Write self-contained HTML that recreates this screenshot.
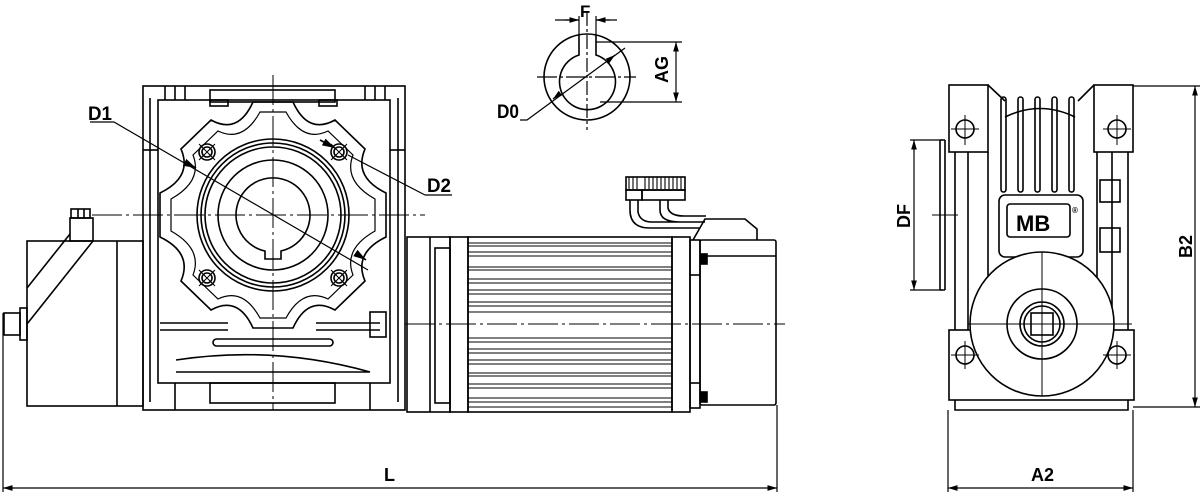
<!DOCTYPE html>
<html><head><meta charset="utf-8"><style>
html,body{margin:0;padding:0;background:#fff;}
svg{display:block;}
text{font-family:"Liberation Sans",sans-serif;font-weight:bold;fill:#000;}
</style></head><body>
<svg width="1200" height="495" viewBox="0 0 1200 495" xmlns="http://www.w3.org/2000/svg">
<defs>
<marker id="ar" viewBox="0 0 10 10" refX="10" refY="5" markerWidth="8" markerHeight="8" orient="auto-start-reverse"><path d="M0,2 L10,5 L0,8 Z" fill="#000"/></marker>
</defs>
<g fill="none" stroke="#000" stroke-width="1.6">
<!-- ===== LEFT: brake box ===== -->
<rect x="27" y="241" width="116" height="165"/>
<line x1="117" y1="241" x2="117" y2="406"/>
<rect x="70" y="218" width="23" height="23"/>
<rect x="71" y="209" width="19" height="9"/>
<line x1="78" y1="209" x2="78" y2="218"/><line x1="84" y1="209" x2="84" y2="218"/>
<line x1="70" y1="234" x2="27" y2="288"/><line x1="93" y1="241" x2="27" y2="324"/>
<rect x="20" y="308" width="7" height="32"/>
<rect x="4" y="313" width="16" height="22"/>
<line x1="3" y1="313" x2="3" y2="492" stroke-width="1.2"/>
<!-- ===== gearbox side ===== -->
<rect x="143" y="86" width="262" height="324"/>
<rect x="158" y="100" width="232" height="283"/>
<rect x="210" y="90" width="125" height="12"/>
<rect x="210" y="100" width="18" height="6"/><rect x="319" y="100" width="18" height="6"/>
<line x1="150" y1="98" x2="150" y2="402"/><line x1="398" y1="98" x2="398" y2="402"/>
<line x1="165" y1="86" x2="165" y2="100"/><line x1="175" y1="86" x2="175" y2="100"/><line x1="185" y1="86" x2="185" y2="100"/>
<line x1="365" y1="86" x2="365" y2="100"/><line x1="375" y1="86" x2="375" y2="100"/><line x1="385" y1="86" x2="385" y2="100"/>
<line x1="143" y1="150" x2="158" y2="150"/><line x1="390" y1="150" x2="405" y2="150"/>
<rect x="210" y="383" width="125" height="20"/>
<line x1="175" y1="383" x2="175" y2="410"/><line x1="370" y1="383" x2="370" y2="410"/>
<path d="M160 323 H228 M160 330 H228 M316 323 H380 M316 330 H380" />
<rect x="213" y="339" width="120" height="7" rx="3.5"/>
<path d="M176 360 Q273 345 370 372 M176 372 H370"/>
<rect x="370" y="312" width="16" height="25"/>
<!-- flange -->
<g transform="translate(273,215)">
<path d="M -20,-113 L 20,-113 Q 35,-80 62,-95 L 92,-66 Q 80,-38 113,-22 L 113,22 Q 80,38 92,66 L 62,95 Q 35,80 20,113 L -20,113 Q -35,80 -62,95 L -92,66 Q -80,38 -113,22 L -113,-22 Q -80,-38 -92,-66 L -62,-95 Q -35,-80 -20,-113 Z"/>
<path d="M -13,-103 L 13,-103 Q 30,-72 55,-84 L 80,-60 Q 70,-34 102,-16 L 102,16 Q 70,34 80,60 L 55,84 Q 30,72 13,103 L -13,103 Q -30,72 -55,84 L -80,60 Q -70,34 -102,16 L -102,-16 Q -70,-34 -80,-60 L -55,-84 Q -30,-72 -13,-103 Z" stroke-width="1.2"/>
<circle r="76"/><circle r="72"/><circle r="68"/><circle r="55"/>
<path d="M -8,36 A 37 37 0 1 1 8,36 L 8,44 L -8,44 Z" transform="translate(0,0)"/>
<circle cx="-66" cy="-63" r="8"/><circle cx="66" cy="-63" r="8"/><circle cx="-66" cy="63" r="8"/><circle cx="66" cy="63" r="8"/>
<circle cx="-66" cy="-63" r="5"/><circle cx="66" cy="-63" r="5"/><circle cx="-66" cy="63" r="5"/><circle cx="66" cy="63" r="5"/>
<path d="M-74,-55 L-58,-71 M74,-55 L58,-71 M-74,55 L-58,71 M74,55 L58,71 M-74,-71 L-58,-55 M74,-71 L58,-55 M-74,71 L-58,55 M74,71 L58,55" stroke-width="1"/>
</g>
<!-- centre lines -->
<g stroke-width="1" stroke-dasharray="30,4,3,4">
<line x1="92" y1="215" x2="425" y2="215"/>
<line x1="273" y1="75" x2="273" y2="410"/>
<line x1="405" y1="324" x2="785" y2="324"/>
</g>
<!-- D1, D2 leaders -->
<path d="M90 122 H114 L368 270" stroke-width="1.2"/>
<path d="M190 165 L196 168" marker-end="url(#ar)"/>
<path d="M360 256 L366 260" marker-end="url(#ar)"/>
<path d="M425 195 H452 M425 195 L348 155" stroke-width="1.2"/>
<path d="M320 140 L335 148" marker-end="url(#ar)"/>
<!-- ===== motor ===== -->
<rect x="407" y="237" width="43" height="175"/>
<line x1="430" y1="237" x2="430" y2="412"/>
<rect x="435" y="248" width="15" height="155"/>
<rect x="450" y="237" width="18" height="175"/>
<rect x="468" y="237" width="204" height="175"/>
<rect x="672" y="237" width="18" height="175"/>
<rect x="690" y="240" width="10" height="168"/>
<rect x="700" y="240" width="76" height="165" rx="2"/>
<line x1="700" y1="256" x2="776" y2="256"/>
<rect x="701" y="254" width="6" height="10" fill="#000"/>
<rect x="701" y="392" width="6" height="10" fill="#000"/>
<line x1="690" y1="275" x2="700" y2="275"/><line x1="690" y1="383" x2="700" y2="383"/>
<path d="M693 240 L705 219 H745 L757 229 V240"/>
<path d="M630 200 V210 Q630 228 650 228 H700 M638 200 V212 Q640 222 652 222 H700 M660 200 V210 Q660 222 680 222 H705 M668 200 V208 Q670 216 684 216 H706"/>
<rect x="626" y="190" width="16" height="10"/><rect x="642" y="190" width="43" height="10"/>
<rect x="626" y="177" width="59" height="13"/>
</g>
<g stroke="#000" stroke-width="1.1">
<path d="M468 243H672M468 246H672M468 252H672M468 256H672M468 267H672M468 270H672M468 279H672M468 283H672M468 290H672M468 294H672M468 302H672M468 306H672M468 312H672M468 338H672M468 342H672M468 349H672M468 353H672M468 360H672M468 364H672M468 373H672M468 376H672M468 384H672M468 388H672M468 398H672M468 402H672M468 407H672"/>
<path d="M629 177V189M633 177V189M637 177V189M645 177V189M649 177V189M653 177V189M657 177V189M661 177V189M665 177V189M669 177V189M673 177V189M677 177V189M681 177V189"/>
</g>
<!-- L dimension -->
<g fill="none" stroke="#000" stroke-width="1.2">
<line x1="777" y1="405" x2="777" y2="492"/>
<line x1="3" y1="488" x2="777" y2="488" marker-start="url(#ar)" marker-end="url(#ar)"/>
<!-- ===== shaft section ===== -->
<circle cx="587" cy="77" r="43" stroke-width="1.6"/>
<path d="M579 35 V55 A 28 28 0 1 0 596 55 V35" stroke-width="1.6"/>
<line x1="587" y1="12" x2="587" y2="130" stroke-dasharray="14,3,3,3"/>
<line x1="537" y1="77" x2="636" y2="77" stroke-dasharray="20,3,3,3"/>
<path d="M579 35 V16 M596 35 V16 M555 20 H579 M596 20 H617" />
<path d="M565 20 H579" marker-end="url(#ar)"/><path d="M610 20 H596" marker-end="url(#ar)"/>
<path d="M596 42 H682 M600 102 H682"/>
<line x1="676" y1="42" x2="676" y2="102" marker-start="url(#ar)" marker-end="url(#ar)"/>
<path d="M520 120 H527 L625 48"/>
<path d="M558 95 L553 99" marker-end="url(#ar)"/><path d="M610 59 L615 55" marker-end="url(#ar)"/>
<!-- ===== right view ===== -->
<g stroke-width="1.6">
<rect x="948" y="86" width="185" height="324" fill="none" stroke="none"/>
<rect x="949" y="85" width="39" height="67"/>
<rect x="1094" y="85" width="39" height="67"/>
<path d="M988 85 L1005 101 M1094 85 L1078 101"/>
<rect x="949" y="330" width="185" height="70"/>
<path d="M955 400 V410 H1128 V400"/>
<path d="M955 152 V330 M968 152 V330 M988 152 V330 M1097 152 V330 M1112 152 V330 M1128 152 V330"/>
<path d="M945 140 V290 M940 140 H945 M940 290 H945 M940 140 V290"/>
<rect x="1100" y="180" width="20" height="22"/><rect x="1100" y="228" width="20" height="24"/>
<rect x="1001" y="97" width="5" height="95" rx="2.5"/><rect x="1018" y="97" width="5" height="95" rx="2.5"/><rect x="1035" y="97" width="5" height="95" rx="2.5"/><rect x="1052" y="97" width="5" height="95" rx="2.5"/><rect x="1069" y="97" width="5" height="95" rx="2.5"/>
<path d="M1005 117 Q1040 100 1075 117"/>
<rect x="999" y="195" width="84" height="62" rx="6" fill="#fff"/>
<rect x="1007" y="204" width="63" height="33" rx="3"/>
<circle cx="1042" cy="324" r="72" fill="#fff"/>
<circle cx="1042" cy="324" r="35"/><circle cx="1042" cy="324" r="22"/><circle cx="1042" cy="324" r="18"/>
<rect x="1031" y="313" width="22" height="22"/>
<circle cx="965" cy="129" r="9"/><circle cx="1117" cy="129" r="9"/>
<circle cx="965" cy="355" r="9"/><circle cx="1117" cy="355" r="9"/>
</g>
<path d="M1042 252 V396 M968 324 H1132" stroke-width="1"/>
<path d="M965 115 V145 M951 129 H979 M1117 115 V145 M1103 129 H1131 M965 341 V369 M951 355 H979 M1117 341 V369 M1103 355 H1131" stroke-width="1"/>
<path d="M932 215 H958" stroke-width="1"/>
<!-- dims right -->
<path d="M910 140 H942 M910 290 H942"/>
<line x1="914" y1="140" x2="914" y2="290" marker-start="url(#ar)" marker-end="url(#ar)"/>
<path d="M1133 86 H1200 M1133 407 H1200"/>
<line x1="1195" y1="86" x2="1195" y2="407" marker-start="url(#ar)" marker-end="url(#ar)"/>
<path d="M948 410 V492 M1133 410 V492"/>
<line x1="948" y1="488" x2="1133" y2="488" marker-start="url(#ar)" marker-end="url(#ar)"/>
</g>
<text x="1016" y="231" font-size="22">MB</text>
<text x="1072" y="213" font-size="8">®</text>
<!-- labels -->
<text x="88" y="120" font-size="19" textLength="24" lengthAdjust="spacingAndGlyphs">D1</text>
<text x="427" y="192" font-size="19" textLength="24" lengthAdjust="spacingAndGlyphs">D2</text>
<text x="497" y="118" font-size="19" textLength="22" lengthAdjust="spacingAndGlyphs">D0</text>
<text x="580" y="17" font-size="17">F</text>
<text x="384" y="481" font-size="18">L</text>
<text x="1031" y="481" font-size="18">A2</text>
<text transform="translate(668,83) rotate(-90)" font-size="18">AG</text>
<text transform="translate(910,228) rotate(-90)" font-size="18">DF</text>
<text transform="translate(1192,258) rotate(-90)" font-size="18">B2</text>
</svg>
</body></html>
